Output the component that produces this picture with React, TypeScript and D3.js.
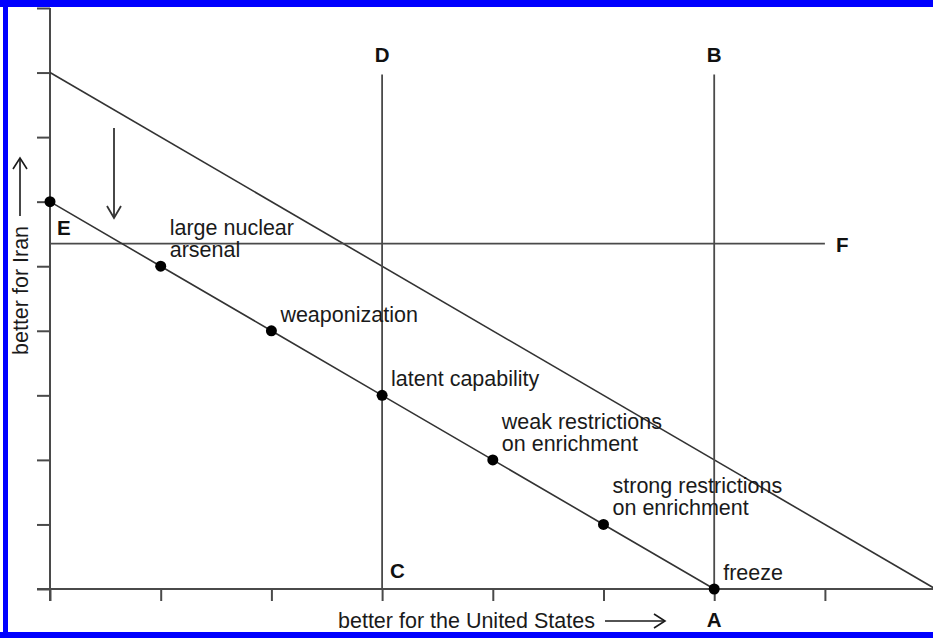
import React, { useEffect, useRef } from 'react';
import * as d3 from 'd3';

// outcomes along the lower frontier (x = better for US, y = better for Iran)
const outcomeLabels: string[][] = [
  [],
  ['large nuclear', 'arsenal'],
  ['weaponization'],
  ['latent capability'],
  ['weak restrictions', 'on enrichment'],
  ['strong restrictions', 'on enrichment'],
  ['freeze'],
];
const outcomeX = [0, 1, 2, 3, 4, 5, 6];
const outcomeY = [6, 5, 4, 3, 2, 1, 0];

// upper frontier
const upperX = [0, 8];
const upperY = [8, 0];

// reservation lines
const verticalX = [3, 6];
const verticalTop = [7.97, 7.97];
const verticalTopLabel = ['D', 'B'];
const verticalBottomLabel = ['C', 'A'];
const horizontalY = 5.35;
const horizontalEnd = 7;

const xTicks = [0, 1, 2, 3, 4, 5, 6, 7];
const yTicks = [0, 1, 2, 3, 4, 5, 6, 7, 8, 9];

const W = 933;
const H = 638;
const FONT = '"Liberation Sans", Arial, Helvetica, sans-serif';
const LABEL_SIZE = 21.5;
const LETTER_SIZE = 20.5;

const App: React.FC = () => {
  const svgRef = useRef<SVGSVGElement>(null);

  useEffect(() => {
    if (!svgRef.current) return;
    const root = d3.select(svgRef.current);
    root.selectAll('*').remove();

    const x = d3.scaleLinear().domain([0, 8]).range([50, 935.6]);
    const y = d3.scaleLinear().domain([0, 9]).range([589, 8]);

    const axisColor = '#4a4a4a';
    const lineColor = '#333';
    const textColor = '#1a1a1a';

    // 蓝色边框
    root.append('rect').attr('x', 0).attr('y', 0).attr('width', W).attr('height', 7).attr('fill', '#0000ff');
    root.append('rect').attr('x', 3).attr('y', 0).attr('width', 5).attr('height', H).attr('fill', '#0000ff');
    root.append('rect').attr('x', 0).attr('y', 632).attr('width', W).attr('height', 6).attr('fill', '#0000ff');

    const g = root.append('g');

    // axes
    const xAxis = d3.axisBottom(x).tickValues(xTicks).tickSize(12).tickFormat(() => '');
    const xg = g.append('g').attr('transform', `translate(0,${y(0)})`).call(xAxis);
    xg.select('.domain').attr('d', `M${x(0) - 13},0H${x(8)}`);

    const yAxis = d3.axisLeft(y).tickValues(yTicks).tickSize(13).tickFormat(() => '');
    const yg = g.append('g').attr('transform', `translate(${x(0)},0)`).call(yAxis);
    yg.select('.domain').attr('d', `M0,${y(9)}V${y(0) + 12}`);

    g.selectAll('.domain').attr('stroke', axisColor).attr('stroke-width', 2);
    g.selectAll('.tick line').attr('stroke', axisColor).attr('stroke-width', 2);

    const line = d3.line<[number, number]>().x(d => x(d[0])).y(d => y(d[1]));

    const letter = (tx: number, ty: number, t: string, anchor = 'start') =>
      g.append('text')
        .attr('x', tx).attr('y', ty)
        .attr('text-anchor', anchor)
        .attr('font-weight', 'bold').attr('font-size', LETTER_SIZE)
        .attr('font-family', FONT).attr('fill', '#111')
        .text(t);

    // upper frontier
    g.append('path')
      .attr('d', line(upperX.map((v, i) => [v, upperY[i]] as [number, number])))
      .attr('fill', 'none').attr('stroke', lineColor).attr('stroke-width', 1.6);

    // vertical lines D-C, B-A
    verticalX.forEach((vx, i) => {
      g.append('path')
        .attr('d', line([[vx, verticalTop[i]], [vx, 0]]))
        .attr('stroke', axisColor).attr('stroke-width', 1.8);
      letter(x(vx), 62, verticalTopLabel[i], 'middle');
    });
    letter(x(3) + 8, 578, verticalBottomLabel[0]);
    letter(x(6), 627, verticalBottomLabel[1], 'middle');

    // horizontal E-F line
    g.append('path')
      .attr('d', line([[0, horizontalY], [horizontalEnd, horizontalY]]))
      .attr('stroke', axisColor).attr('stroke-width', 1.8);
    letter(836, 252, 'F');
    letter(57, 235, 'E');

    // lower frontier
    g.append('path')
      .attr('d', line(outcomeX.map((v, i) => [v, outcomeY[i]] as [number, number])))
      .attr('fill', 'none').attr('stroke', lineColor).attr('stroke-width', 1.6);

    g.selectAll('circle.pt')
      .data(outcomeX)
      .enter()
      .append('circle')
      .attr('class', 'pt')
      .attr('cx', d => x(d))
      .attr('cy', (d, i) => y(outcomeY[i]))
      .attr('r', 5.5)
      .attr('fill', '#000');

    // outcome labels
    outcomeLabels.forEach((lines, i) => {
      const px = x(outcomeX[i]) + 9;
      const py = y(outcomeY[i]) - 9;
      lines.forEach((t, j) => {
        g.append('text')
          .attr('x', px)
          .attr('y', py - (lines.length - 1 - j) * 22)
          .attr('font-size', LABEL_SIZE)
          .attr('font-family', FONT)
          .attr('fill', textColor)
          .text(t);
      });
    });

    // 箭头 (downward shift)
    const ax = 114;
    g.append('path').attr('d', `M${ax},128V218`).attr('stroke', lineColor).attr('stroke-width', 1.8);
    g.append('path').attr('d', `M${ax - 7},206L${ax},218L${ax + 7},206`)
      .attr('fill', 'none').attr('stroke', lineColor).attr('stroke-width', 1.8);

    // axis titles
    const xt = g.append('g');
    xt.append('text').attr('x', 338).attr('y', 628)
      .attr('font-size', LABEL_SIZE).attr('font-family', FONT).attr('fill', textColor)
      .text('better for the United States');
    xt.append('path').attr('d', 'M605,621H665').attr('stroke', textColor).attr('stroke-width', 1.6);
    xt.append('path').attr('d', 'M654,614L665,621L654,628').attr('fill', 'none').attr('stroke', textColor).attr('stroke-width', 1.6);

    const yt = g.append('g');
    yt.append('text')
      .attr('transform', 'translate(28,355) rotate(-90)')
      .attr('font-size', LABEL_SIZE).attr('font-family', FONT).attr('fill', textColor)
      .text('better for Iran');
    yt.append('path').attr('d', 'M20,216V158').attr('stroke', textColor).attr('stroke-width', 1.6);
    yt.append('path').attr('d', 'M13,169L20,158L27,169').attr('fill', 'none').attr('stroke', textColor).attr('stroke-width', 1.6);
  }, []);

  return (
    <div style={{ position: 'absolute', left: 0, top: 0, width: W, height: H, background: '#fff' }}>
      <svg ref={svgRef} width={W} height={H} style={{ display: 'block' }} />
    </div>
  );
};

export default App;
